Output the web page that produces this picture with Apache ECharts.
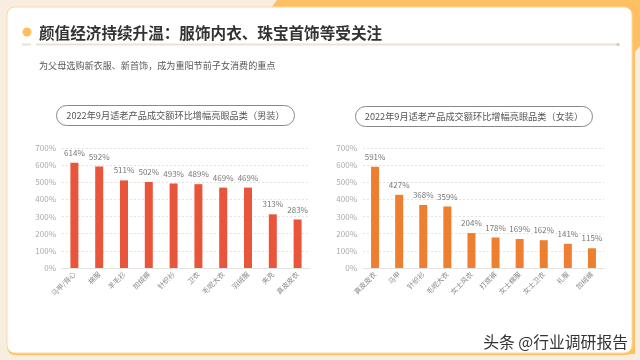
<!DOCTYPE html>
<html><head><meta charset="utf-8">
<script src="https://cdn.jsdelivr.net/npm/echarts@6/dist/echarts.min.js"></script>
<style>html,body{margin:0;padding:0;background:#F8EEDF}#c{width:640px;height:360px}</style>
</head><body><div id="c"></div>
<script>
const menCategories = ['马甲/背心','棉服','羊毛衫','加绒裤','针织衫','卫衣','毛呢大衣','羽绒服','夹克','真皮皮衣'];
const menValues = [614,592,511,502,493,489,469,469,313,283];
const womenCategories = ['真皮皮衣','马甲','针织衫','毛呢大衣','女士风衣','打底裤','女士棉服','女士卫衣','礼服','加绒裤'];
const womenValues = [591,427,368,359,204,178,169,162,141,115];
const mainTitle = '颜值经济持续升温：服饰内衣、珠宝首饰等受关注';
const subTitle = '为父母选购新衣服、新首饰，成为重阳节前子女消费的重点';
const menTitle = '2022年9月适老产品成交额环比增幅亮眼品类（男装）';
const womenTitle = '2022年9月适老产品成交额环比增幅亮眼品类（女装）';
const watermark = '头条 @行业调研报告';

const FONT = '"Noto Sans CJK SC","Noto Sans",sans-serif';
const chart = echarts.init(document.getElementById('c'), null, {renderer:'canvas'});

function yAxis(gi){
  return {type:'value',gridIndex:gi,min:0,max:700,interval:100,
    axisLabel:{formatter:'{value}%',color:'#aaa',fontSize:8,fontFamily:FONT,margin:6},
    axisLine:{show:false},axisTick:{show:false},
    splitLine:{lineStyle:{color:'#e3e3e3',type:[2,2]}}};
}
function xAxis(gi,data){
  return {type:'category',gridIndex:gi,data:data,
    axisLine:{lineStyle:{color:'#e3e3e3'}},axisTick:{show:false},
    axisLabel:{rotate:45,color:'#888',fontSize:7,fontFamily:FONT,margin:5,interval:0}};
}
function bar(gi,data,color){
  return {type:'bar',xAxisIndex:gi,yAxisIndex:gi,data:data,barWidth:8,
    itemStyle:{color:color},
    label:{show:true,position:'top',formatter:'{c}%',color:'#777',fontSize:8,fontFamily:FONT,distance:6},
    silent:true};
}

chart.setOption({
  animation:false,
  backgroundColor:'#F8EEDF',
  graphic:[
    {type:'polygon',z:-10,shape:{points:[[277,0],[640,0],[640,46],[635,52],[635,354],[10,354]]},style:{fill:'#FFC063'}},
    {type:'rect',z:-9,shape:{x:7,y:7,width:627,height:348,r:8},style:{fill:'#FFC063'}},
    {type:'rect',z:-8,shape:{x:7,y:7,width:625,height:346,r:8},style:{fill:'#ffffff',stroke:'#FFD9A0',lineWidth:1}},
    {type:'circle',z:-5,shape:{cx:27,cy:32,r:4.5},style:{fill:'#FFBE5C'}},
    {type:'line',z:-5,shape:{x1:22,y1:44.5,x2:31,y2:44.5},style:{stroke:'#EAE2D6',lineWidth:2}},
    {type:'line',z:-5,shape:{x1:36,y1:44.5,x2:618,y2:44.5},style:{stroke:'#EAE2D6',lineWidth:2}},
    {type:'circle',z:-5,shape:{cx:618,cy:44.5,r:1.8},style:{fill:'#D9CFC0'}},
    {type:'text',z:-4,x:39,y:33,style:{text:mainTitle,font:'bold 15.6px '+FONT,fill:'#333',textVerticalAlign:'middle'}},
    {type:'text',z:-4,x:39,y:66,style:{text:subTitle,font:'9.1px '+FONT,fill:'#555',textVerticalAlign:'middle'}},
    {type:'rect',z:-4,shape:{x:56.5,y:105.5,width:238,height:20,r:10},style:{fill:'none',stroke:'#888',lineWidth:1}},
    {type:'text',z:-4,x:175.5,y:115.5,style:{text:menTitle,font:'9.2px '+FONT,fill:'#555',textAlign:'center',textVerticalAlign:'middle'}},
    {type:'rect',z:-4,shape:{x:355.5,y:106.5,width:237,height:20,r:10},style:{fill:'none',stroke:'#888',lineWidth:1}},
    {type:'text',z:-4,x:474,y:116.5,style:{text:womenTitle,font:'9.2px '+FONT,fill:'#555',textAlign:'center',textVerticalAlign:'middle'}},
    {type:'text',z:10,x:628,y:342,style:{text:watermark,font:'15.8px '+FONT,fill:'#333',textAlign:'right',textVerticalAlign:'middle',stroke:'#fff',lineWidth:2}}
  ],
  grid:[
    {left:62,right:330,top:148,bottom:92},
    {left:363,right:36,top:148,bottom:92}
  ],
  xAxis:[xAxis(0,menCategories),xAxis(1,womenCategories)],
  yAxis:[yAxis(0),yAxis(1)],
  series:[bar(0,menValues,'#E8553A'),bar(1,womenValues,'#EF7F30')]
});
</script></body></html>
